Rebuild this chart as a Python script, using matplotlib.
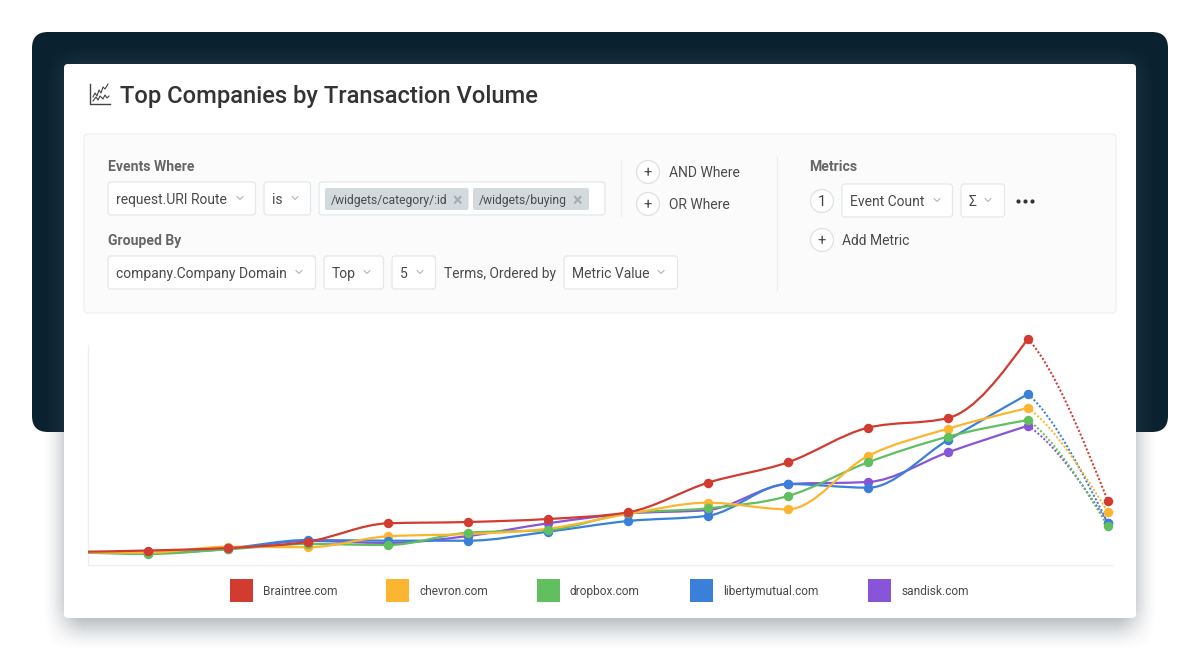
import matplotlib
matplotlib.use("Agg")
import matplotlib.pyplot as plt
import numpy as np
from matplotlib.patches import FancyBboxPatch, Circle, Rectangle, PathPatch
from matplotlib.path import Path

plt.rcParams['font.family'] = ['Roboto', 'DejaVu Sans']

# chart data, first point sits left of the axis and is cut off by it
companies = ['Braintree.com', 'chevron.com', 'dropbox.com', 'libertymutual.com', 'sandisk.com']
colors = ['#d13b30', '#fbb530', '#62bf60', '#3a80d8', '#8854d8']
periods = np.arange(-1, 13)
braintree = [13, 14.5, 17, 23.3, 41.7, 43, 46, 52.7, 82.3, 102.7, 137.3, 147, 226.3, 63.7]
chevron = [13, 12.3, 18.3, 17.7, 28.7, 31, 36.3, 51, 62.3, 55.7, 109, 136.3, 157, 52.7]
dropbox = [13, 11, 15.7, 21, 20, 32.3, 35, 51.7, 56.7, 69, 102.7, 128.3, 145, 38.7]
libertymutual = [13, 12.3, 16.7, 25, 24.3, 24.3, 33.3, 44, 49.3, 81, 77.3, 125, 171, 41.7]
sandisk = [13, 12, 16, 24, 22, 29, 41.7, 51.5, 55, 81, 83, 112.7, 139.3, 42.3]
series = [braintree, chevron, dropbox, libertymutual, sandisk]

legend_x = [230, 386, 537, 690, 868]

W, H = 1200, 650
fig = plt.figure(figsize=(W / 100, H / 100), dpi=100, facecolor='white')

# whole page in pixel coordinates for the card and the query form
ui = fig.add_axes([0, 0, 1, 1])


def box(x0, y0, x1, y1, r=3, fc='white', ec='#e3e8ec', lw=0.9, z=2, alpha=None):
    p = FancyBboxPatch((x0 + r, y0 + r), x1 - x0 - 2 * r, y1 - y0 - 2 * r,
                       boxstyle='round,pad=%f,rounding_size=%f' % (r, r),
                       fc=fc, ec=ec, lw=lw, zorder=z, alpha=alpha)
    ui.add_patch(p)


def label(x, y, s, size=10, color='#4a4a4a', weight='normal', ha='left'):
    ui.text(x, y, s, fontsize=size, color=color, fontweight=weight, ha=ha,
            va='center_baseline', zorder=6)


def chevron_icon(x, y):
    ui.plot([x - 3, x, x + 3], [y - 1.5, y + 1.5, y - 1.5], color='#a8aeb3', lw=0.7, zorder=6)


def dropdown(x0, x1, y0, text, chev_x):
    box(x0, y0, x1 - 0.5, y0 + 33)
    label(x0 + 8, y0 + 16.5, text)
    chevron_icon(chev_x, y0 + 16)


def plus_button(x, y, s='+'):
    ui.add_patch(Circle((x, y), 11.5, fc='white', ec='#dde2e6', lw=0.9, zorder=3))
    label(x, y, s, size=10.5, color='#444444', ha='center')


def ramp(d, w):
    s = np.clip((d + w) / (2 * w), 0, 1)
    return s * s * (3 - 2 * s)


# dark backdrop
box(32, 32, 1168, 432, r=16, fc='#0a2230', ec='none', lw=0, z=0)

# soft card shadow as a small rgba image, layered patches banded badly
px, py = np.meshgrid(np.arange(W) + 0.5, np.arange(H) + 0.5)
fall = ramp(px - 64, 22) * ramp(1136 - px, 22) * ramp(py - 64, 22) * ramp(626 - py, 26)
shadow = np.zeros((H, W, 4))
shadow[..., 0] = 70 / 255
shadow[..., 1] = 82 / 255
shadow[..., 2] = 92 / 255
shadow[..., 3] = 0.5 * fall
ui.imshow(shadow, extent=(0, W, H, 0), aspect='auto', zorder=0.5, interpolation='nearest')
ui.set_xlim(0, W)
ui.set_ylim(H, 0)
ui.axis('off')

box(64, 64, 1136, 618, r=4, fc='white', ec='none', lw=0, z=1)

# title and its little chart icon
ui.plot([90, 90, 110], [84, 104, 104], color='#444444', lw=1.0, zorder=6)
ui.plot([93, 95, 97, 99, 101, 103, 105, 108], [97, 93, 96, 90, 93, 87, 89, 84], color='#444444', lw=0.8, zorder=6)
ui.plot([93, 96, 98, 100, 103, 105, 107, 109], [101, 97, 100, 96, 99, 95, 98, 96], color='#444444', lw=0.8, zorder=6)
label(120, 94.5, 'Top Companies by Transaction Volume', size=17.1, color='#333333', weight='medium')

# query form
box(84, 134, 1116, 313, r=4, fc='#fbfbfb', ec='#f0f0f0', z=1.5)
label(108, 165.5, 'Events Where', color='#666666', weight='bold', size=10.1)
dropdown(108, 256, 182, 'request.URI Route', 240)
dropdown(264, 311, 182, 'is', 295)
box(319, 182, 605, 215)
box(325, 188, 468.5, 210, r=2, fc='#d3dade', ec='none', lw=0, z=3)
box(473, 188, 589, 210, r=2, fc='#d3dade', ec='none', lw=0, z=3)
label(331, 199, '/widgets/category/:id', size=8.7)
label(479, 199, '/widgets/buying', size=8.7)
label(457, 199, '\u00d7', size=13, color='#a5aeb4', weight='bold', ha='center')
label(577, 199, '\u00d7', size=13, color='#a5aeb4', weight='bold', ha='center')

label(108, 240, 'Grouped By', color='#666666', weight='bold', size=10.1)
dropdown(108, 316, 256, 'company.Company Domain', 299)
dropdown(324, 384, 256, 'Top', 367)
dropdown(392, 436, 256, '5', 420)
label(444, 272.5, 'Terms, Ordered by', size=9.9)
dropdown(564, 678, 256, 'Metric Value', 661)

ui.plot([621, 621], [160, 216], color='#eeeeee', lw=0.9, zorder=2)
ui.plot([777, 777], [157, 290], color='#eeeeee', lw=0.9, zorder=2)
plus_button(648, 172)
plus_button(648, 204)
label(669, 171.5, 'AND Where')
label(669, 203.5, 'OR Where')

label(809.5, 165.5, 'Metrics', color='#666666', weight='bold', size=10.1)
plus_button(822, 201, '1')
dropdown(842, 953, 184, 'Event Count', 937)
dropdown(961, 1005, 184, '\u03a3', 988)
ui.scatter([1018, 1025, 1032], [201, 201, 201], s=9, color='#333333', zorder=6, linewidths=0)
plus_button(822, 240)
label(842, 239.5, 'Add Metric')

# legend
for name, c, lx in zip(companies, colors, legend_x):
    ui.add_patch(Rectangle((lx, 579), 23, 23, fc=c, ec='none', zorder=3))
    label(lx + 33, 590, name, size=8.6)

# chart, one unit = one pixel on the value axis so readings stay simple
ax = fig.add_axes([87.5 / W, 1 - 564.5 / H, (1112 - 87.5) / W, (564.5 - 330) / H])
ax.patch.set_alpha(0)
ax.set_xlim(-0.756, 12.05)
ax.set_ylim(0.5, 235)
ax.set_xticks([])
ax.set_yticks([])
for s in ['top', 'right']:
    ax.spines[s].set_visible(False)
for s in ['left', 'bottom']:
    ax.spines[s].set_color('#eeeeee')
    ax.spines[s].set_linewidth(0.9)
ax.spines['left'].set_bounds(0.5, 220)


def monotone_tangents(x, y):
    h = np.diff(x)
    d = np.diff(y) / h
    t = np.zeros(len(x))
    for i in range(1, len(x) - 1):
        if d[i - 1] * d[i] > 0:
            p = (d[i - 1] * h[i] + d[i] * h[i - 1]) / (h[i - 1] + h[i])
            t[i] = 2 * np.sign(d[i]) * min(abs(d[i - 1]), abs(d[i]), 0.5 * abs(p))
    t[0] = (3 * d[0] - t[1]) / 2
    t[-1] = (3 * d[-1] - t[-2]) / 2
    return t


def curve_path(x, y, t):
    verts = [(x[0], y[0])]
    codes = [Path.MOVETO]
    for i in range(len(x) - 1):
        dx = (x[i + 1] - x[i]) / 3
        verts += [(x[i] + dx, y[i] + dx * t[i]), (x[i + 1] - dx, y[i + 1] - dx * t[i + 1]), (x[i + 1], y[i + 1])]
        codes += [Path.CURVE4, Path.CURVE4, Path.CURVE4]
    return Path(verts, codes)


# draw back to front, braintree ends up on top
for vals, c, k in zip(series[::-1], colors[::-1], range(5)):
    y = np.array(vals, dtype=float)
    x = periods.astype(float)
    t = monotone_tangents(x[:-1], y[:-1])
    ax.add_patch(PathPatch(curve_path(x[:-1], y[:-1], t), fc='none', ec=c, lw=1.6, zorder=3 + k * 0.1))
    # last period is still partial, dotted and only slightly bowed
    slope = y[-1] - y[-2]
    end_t = [0.55 * slope, 1.225 * slope]
    ax.add_patch(PathPatch(curve_path(x[-2:], y[-2:], end_t), fc='none', ec=c, lw=1.45,
                           linestyle=(0, (1, 1)), zorder=3 + k * 0.1))

order = [1, 4, 3, 2, 0]
for j in order:
    ax.plot(periods[1:], series[j][1:], 'o', color=colors[j], ms=6.8, mew=0, zorder=5 + order.index(j) * 0.1, clip_on=False)

fig.savefig('out.png', dpi=100)
